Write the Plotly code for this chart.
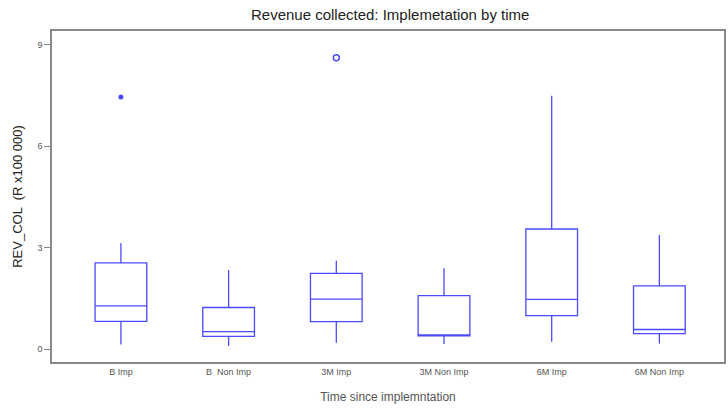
import plotly.graph_objects as go

categories = ["B Imp", "B  Non Imp", "3M Imp", "3M Non Imp", "6M Imp", "6M Non Imp"]
lower_fence = [0.14, 0.09, 0.19, 0.15, 0.22, 0.17]
q1_vals = [0.82, 0.38, 0.81, 0.39, 0.99, 0.46]
median_vals = [1.28, 0.52, 1.48, 0.40, 1.47, 0.58]
q3_vals = [2.55, 1.23, 2.24, 1.58, 3.55, 1.87]
upper_fence = [3.13, 2.34, 2.61, 2.39, 7.49, 3.37]

outlier_filled_cat = ["B Imp"]
outlier_filled_val = [7.45]
outlier_open_cat = ["3M Imp"]
outlier_open_val = [8.61]

y_ticks = [0, 3, 6, 9]

blue = "#4a4aff"

fig = go.Figure()
fig.add_trace(go.Box(
    x=categories, q1=q1_vals, median=median_vals, q3=q3_vals,
    lowerfence=lower_fence, upperfence=upper_fence,
    width=0.48, whiskerwidth=0,
    line=dict(color=blue, width=1.3),
    fillcolor="rgba(0,0,0,0)",
    boxpoints=False, showlegend=False,
))
fig.add_trace(go.Scatter(
    x=outlier_filled_cat, y=outlier_filled_val, mode="markers",
    marker=dict(symbol="circle", size=5, color=blue),
    showlegend=False,
))
fig.add_trace(go.Scatter(
    x=outlier_open_cat, y=outlier_open_val, mode="markers",
    marker=dict(symbol="circle-open", size=6, color=blue, line=dict(width=1.5)),
    showlegend=False,
))

fig.update_layout(
    width=728, height=408,
    margin=dict(l=52, r=4, t=31, b=46),
    paper_bgcolor="white", plot_bgcolor="white",
    font=dict(family="Liberation Sans, Arial, sans-serif", color="#333"),
    title=dict(text="Revenue collected: Implemetation by time",
               x=0.536, xanchor="center", y=0.965, yanchor="middle",
               font=dict(size=15, color="#222")),
)
fig.update_xaxes(
    type="category", categoryorder="array", categoryarray=categories,
    range=[-0.64, 5.6], automargin=False,
    showline=True, linecolor="#888", linewidth=1.5, mirror=True,
    showgrid=False, ticks="", zeroline=False,
    tickfont=dict(size=9, color="#555"),
    title=dict(text="Time since implemntation", font=dict(size=12, color="#555"), standoff=17),
)
fig.update_yaxes(
    range=[-0.38, 9.4], tickvals=y_ticks, automargin=False,
    showline=True, linecolor="#888", linewidth=1.5, mirror=True,
    showgrid=False, zeroline=False,
    ticks="outside", ticklen=6, tickcolor="#888",
    tickfont=dict(size=9, color="#555"),
    title=dict(text="REV_COL  (R x100 000)", font=dict(size=13, color="#222"), standoff=12),
)

fig.write_html("out.html", config={"displayModeBar": False},
               post_script="document.body.style.margin='0';")
